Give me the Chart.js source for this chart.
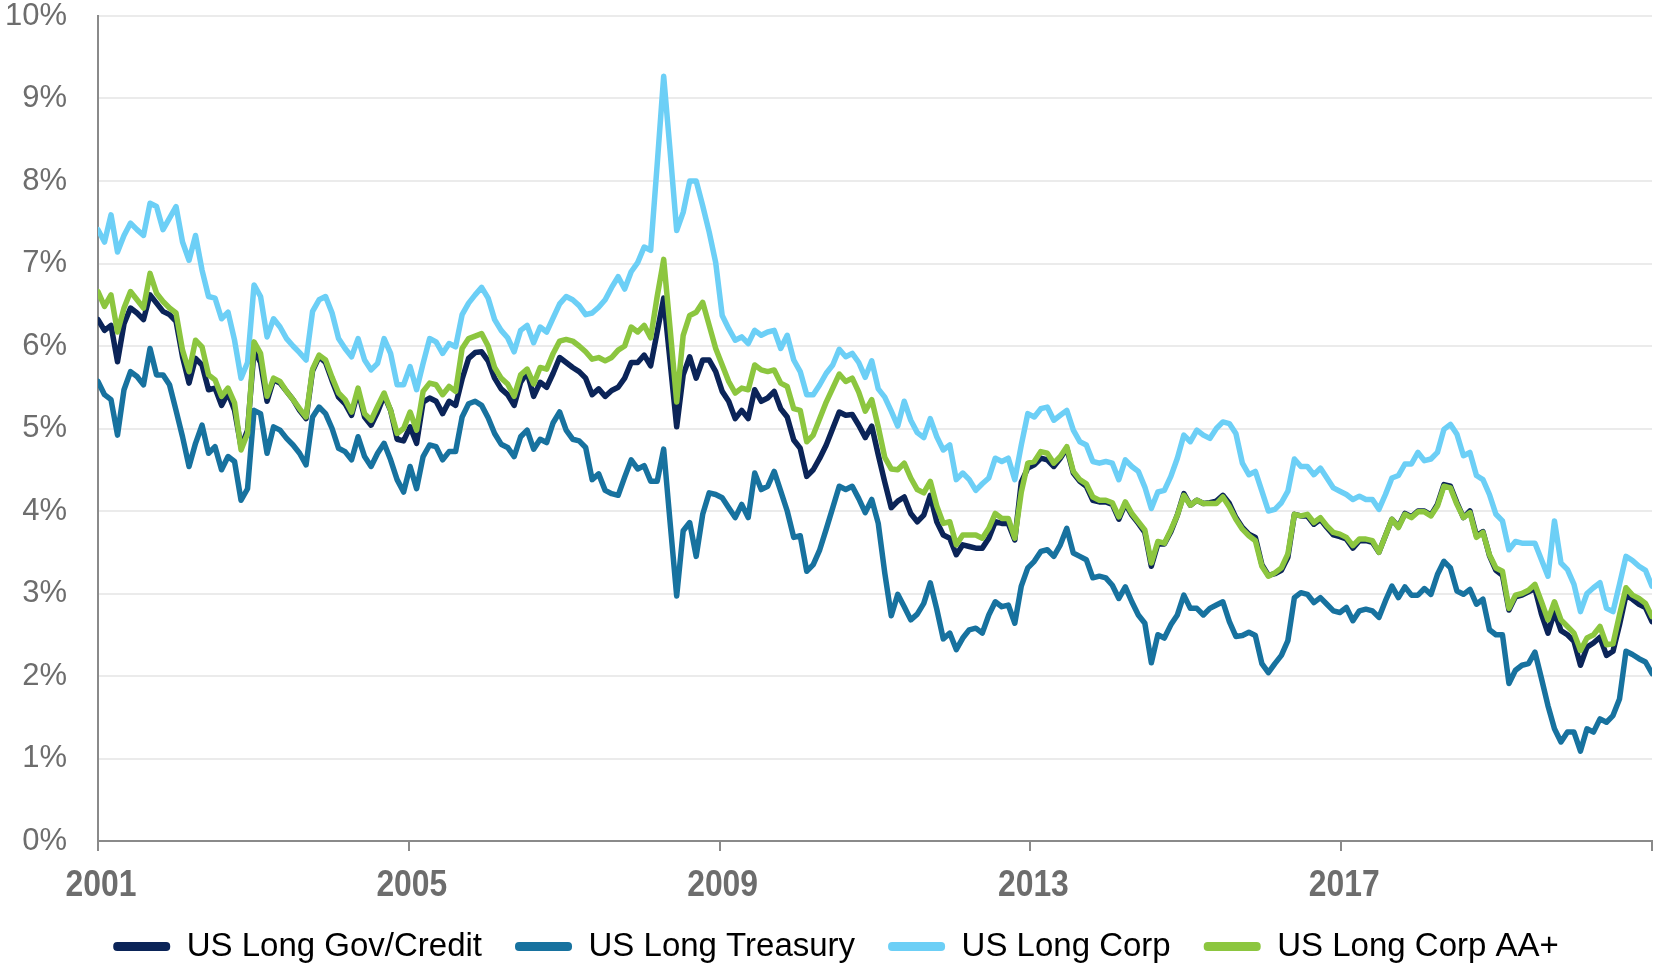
<!DOCTYPE html>
<html>
<head>
<meta charset="utf-8">
<title>US long bond yields</title>
<script src="https://cdn.jsdelivr.net/npm/chart.js@4.4.0/dist/chart.umd.min.js"></script>
<style>
  html, body { margin: 0; padding: 0; background: #ffffff; }
  #chart { display: block; }
</style>
</head>
<body>
<canvas id="chart" width="1654" height="967"></canvas>
<script>
// Monthly yields (%), 240 observations per series
const yearTicks = ['2001', '2005', '2009', '2013', '2017', ''];
const seriesNames = ['US Long Gov/Credit', 'US Long Treasury', 'US Long Corp', 'US Long Corp AA+'];

const govCredit = [
  6.32, 6.19, 6.25, 5.81, 6.27, 6.46, 6.40, 6.32, 6.62, 6.52,
  6.42, 6.38, 6.30, 5.87, 5.55, 5.85, 5.77, 5.47, 5.49, 5.28,
  5.43, 5.22, 4.78, 4.98, 5.95, 5.80, 5.33, 5.59, 5.55, 5.45,
  5.35, 5.22, 5.12, 5.70, 5.87, 5.80, 5.58, 5.38, 5.30, 5.16,
  5.45, 5.14, 5.04, 5.20, 5.40, 5.22, 4.87, 4.85, 5.02, 4.82,
  5.32, 5.37, 5.33, 5.18, 5.33, 5.28, 5.60, 5.85, 5.92, 5.93,
  5.82, 5.61, 5.48, 5.41, 5.28, 5.56, 5.68, 5.39, 5.56, 5.50,
  5.67, 5.86, 5.80, 5.74, 5.69, 5.61, 5.41, 5.48, 5.39, 5.46,
  5.50, 5.61, 5.80, 5.80, 5.89, 5.76, 6.17, 6.58, 5.80, 5.02,
  5.65, 5.87, 5.61, 5.83, 5.83, 5.69, 5.45, 5.33, 5.12, 5.22,
  5.12, 5.47, 5.33, 5.37, 5.45, 5.24, 5.14, 4.86, 4.76, 4.42,
  4.50, 4.64, 4.80, 5.00, 5.20, 5.16, 5.17, 5.04, 4.89, 5.03,
  4.68, 4.35, 4.04, 4.12, 4.17, 3.97, 3.87, 3.95, 4.19, 3.87,
  3.71, 3.67, 3.47, 3.59, 3.57, 3.55, 3.55, 3.67, 3.87, 3.85,
  3.85, 3.65, 4.35, 4.52, 4.56, 4.64, 4.62, 4.54, 4.64, 4.76,
  4.46, 4.36, 4.30, 4.13, 4.11, 4.11, 4.08, 3.90, 4.09, 3.95,
  3.85, 3.74, 3.33, 3.60, 3.60, 3.75, 3.95, 4.21, 4.07, 4.13,
  4.09, 4.10, 4.12, 4.19, 4.09, 3.92, 3.80, 3.72, 3.68, 3.35,
  3.22, 3.24, 3.28, 3.44, 3.96, 3.94, 3.94, 3.84, 3.90, 3.80,
  3.71, 3.69, 3.66, 3.55, 3.64, 3.64, 3.62, 3.50, 3.70, 3.90,
  3.81, 3.97, 3.93, 4.00, 4.00, 3.95, 4.08, 4.32, 4.30, 4.10,
  3.92, 4.00, 3.70, 3.75, 3.46, 3.28, 3.22, 2.80, 2.96, 2.98,
  3.02, 3.06, 2.75, 2.52, 2.78, 2.55, 2.50, 2.42, 2.13, 2.35,
  2.40, 2.47, 2.25, 2.30, 2.62, 2.98, 2.93, 2.87, 2.83, 2.66
];

const treasury = [
  5.57, 5.41, 5.35, 4.92, 5.47, 5.69, 5.63, 5.53, 5.97, 5.65,
  5.65, 5.53, 5.22, 4.90, 4.54, 4.82, 5.04, 4.70, 4.78, 4.50,
  4.66, 4.60, 4.13, 4.27, 5.22, 5.18, 4.70, 5.02, 4.98, 4.88,
  4.80, 4.70, 4.56, 5.14, 5.26, 5.18, 5.00, 4.76, 4.72, 4.62,
  4.90, 4.66, 4.54, 4.70, 4.82, 4.62, 4.38, 4.23, 4.54, 4.27,
  4.66, 4.80, 4.78, 4.62, 4.72, 4.72, 5.14, 5.30, 5.33, 5.28,
  5.13, 4.94, 4.81, 4.77, 4.66, 4.90, 4.98, 4.75, 4.87, 4.83,
  5.07, 5.20, 4.98, 4.87, 4.85, 4.77, 4.38, 4.45, 4.25, 4.21,
  4.19, 4.41, 4.62, 4.51, 4.55, 4.36, 4.36, 4.75, 3.85, 2.97,
  3.76, 3.86, 3.45, 3.96, 4.22, 4.20, 4.16, 4.04, 3.92, 4.08,
  3.92, 4.46, 4.26, 4.30, 4.48, 4.24, 4.00, 3.68, 3.70, 3.27,
  3.35, 3.53, 3.78, 4.04, 4.30, 4.26, 4.30, 4.15, 3.98, 4.14,
  3.85, 3.25, 2.73, 2.99, 2.84, 2.68, 2.75, 2.88, 3.13, 2.81,
  2.45, 2.52, 2.32, 2.46, 2.56, 2.58, 2.52, 2.74, 2.90, 2.84,
  2.86, 2.64, 3.09, 3.31, 3.39, 3.51, 3.53, 3.45, 3.59, 3.79,
  3.49, 3.45, 3.41, 3.19, 3.21, 3.19, 3.10, 2.94, 3.08, 2.90,
  2.74, 2.64, 2.16, 2.50, 2.46, 2.62, 2.74, 2.98, 2.82, 2.82,
  2.74, 2.82, 2.86, 2.90, 2.66, 2.48, 2.49, 2.53, 2.49, 2.15,
  2.04, 2.15, 2.25, 2.43, 2.95, 3.01, 2.99, 2.89, 2.95, 2.87,
  2.79, 2.77, 2.83, 2.67, 2.79, 2.81, 2.79, 2.71, 2.91, 3.09,
  2.95, 3.08, 2.98, 2.98, 3.06, 2.99, 3.23, 3.39, 3.31, 3.03,
  2.99, 3.05, 2.87, 2.93, 2.56, 2.50, 2.50, 1.91, 2.07, 2.13,
  2.15, 2.29, 1.97, 1.64, 1.36, 1.20, 1.32, 1.32, 1.09, 1.36,
  1.32, 1.48, 1.44, 1.52, 1.72, 2.30, 2.26, 2.21, 2.17, 2.03
];

const corp = [
  7.41, 7.26, 7.59, 7.14, 7.34, 7.49, 7.41, 7.34, 7.73, 7.69,
  7.41, 7.55, 7.69, 7.26, 7.04, 7.34, 6.92, 6.60, 6.58, 6.33,
  6.41, 6.07, 5.61, 5.80, 6.74, 6.60, 6.11, 6.33, 6.23, 6.09,
  6.00, 5.92, 5.83, 6.42, 6.56, 6.60, 6.40, 6.09, 5.97, 5.87,
  6.09, 5.83, 5.71, 5.79, 6.09, 5.91, 5.53, 5.53, 5.75, 5.47,
  5.79, 6.09, 6.05, 5.91, 6.03, 5.99, 6.38, 6.52, 6.62, 6.71,
  6.58, 6.32, 6.19, 6.10, 5.93, 6.19, 6.25, 6.04, 6.23, 6.17,
  6.34, 6.51, 6.60, 6.56, 6.49, 6.38, 6.40, 6.47, 6.56, 6.71,
  6.84, 6.69, 6.90, 7.01, 7.20, 7.16, 8.20, 9.27, 8.35, 7.40,
  7.62, 8.00, 8.00, 7.70, 7.38, 7.01, 6.37, 6.21, 6.07, 6.11,
  6.03, 6.19, 6.13, 6.17, 6.19, 5.97, 6.13, 5.83, 5.69, 5.41,
  5.41, 5.53, 5.67, 5.77, 5.96, 5.87, 5.91, 5.80, 5.62, 5.82,
  5.48, 5.38, 5.21, 5.03, 5.33, 5.10, 4.95, 4.89, 5.12, 4.90,
  4.74, 4.80, 4.38, 4.46, 4.38, 4.25, 4.33, 4.40, 4.64, 4.60,
  4.64, 4.38, 4.80, 5.18, 5.14, 5.24, 5.26, 5.10, 5.16, 5.22,
  4.98, 4.84, 4.80, 4.60, 4.58, 4.60, 4.58, 4.38, 4.62, 4.54,
  4.48, 4.29, 4.03, 4.23, 4.25, 4.42, 4.64, 4.92, 4.84, 4.98,
  4.92, 4.88, 5.00, 5.08, 5.06, 4.94, 4.58, 4.44, 4.48, 4.24,
  4.00, 4.02, 4.10, 4.24, 4.63, 4.54, 4.54, 4.44, 4.52, 4.40,
  4.28, 4.24, 4.20, 4.14, 4.18, 4.14, 4.14, 4.02, 4.20, 4.40,
  4.43, 4.57, 4.57, 4.71, 4.61, 4.63, 4.71, 4.99, 5.05, 4.93,
  4.67, 4.71, 4.43, 4.38, 4.20, 3.96, 3.88, 3.53, 3.63, 3.61,
  3.61, 3.61, 3.41, 3.21, 3.88, 3.37, 3.29, 3.11, 2.78, 3.00,
  3.07, 3.13, 2.82, 2.78, 3.11, 3.45, 3.40, 3.33, 3.28, 3.09
];

const corpAAplus = [
  6.66, 6.48, 6.62, 6.17, 6.46, 6.66, 6.56, 6.46, 6.88, 6.64,
  6.54, 6.46, 6.40, 5.95, 5.69, 6.07, 5.99, 5.65, 5.59, 5.39,
  5.49, 5.31, 4.74, 4.94, 6.05, 5.91, 5.39, 5.61, 5.57, 5.45,
  5.35, 5.24, 5.14, 5.72, 5.89, 5.83, 5.62, 5.43, 5.35, 5.20,
  5.49, 5.18, 5.10, 5.27, 5.43, 5.22, 4.94, 5.00, 5.20, 4.98,
  5.45, 5.55, 5.53, 5.41, 5.51, 5.45, 5.97, 6.09, 6.12, 6.15,
  6.00, 5.74, 5.61, 5.54, 5.39, 5.65, 5.72, 5.54, 5.74, 5.72,
  5.91, 6.06, 6.08, 6.06, 6.00, 5.93, 5.84, 5.86, 5.82, 5.86,
  5.95, 6.00, 6.23, 6.17, 6.25, 6.10, 6.60, 7.05, 6.20, 5.32,
  6.13, 6.37, 6.41, 6.53, 6.25, 5.97, 5.77, 5.57, 5.43, 5.49,
  5.47, 5.77, 5.71, 5.69, 5.71, 5.55, 5.51, 5.24, 5.22, 4.84,
  4.92, 5.12, 5.32, 5.49, 5.66, 5.57, 5.61, 5.44, 5.21, 5.35,
  5.02, 4.65, 4.51, 4.50, 4.58, 4.40, 4.26, 4.22, 4.36, 4.06,
  3.85, 3.87, 3.59, 3.71, 3.71, 3.71, 3.67, 3.79, 3.97, 3.91,
  3.91, 3.67, 4.23, 4.58, 4.60, 4.72, 4.70, 4.58, 4.66, 4.78,
  4.48, 4.38, 4.33, 4.17, 4.13, 4.13, 4.10, 3.93, 4.11, 3.97,
  3.87, 3.77, 3.37, 3.63, 3.61, 3.77, 3.95, 4.19, 4.07, 4.13,
  4.09, 4.09, 4.09, 4.17, 4.05, 3.90, 3.78, 3.70, 3.64, 3.33,
  3.21, 3.25, 3.31, 3.48, 3.96, 3.94, 3.96, 3.86, 3.92, 3.82,
  3.74, 3.72, 3.68, 3.58, 3.66, 3.66, 3.64, 3.50, 3.70, 3.90,
  3.80, 3.96, 3.92, 3.99, 3.99, 3.94, 4.06, 4.30, 4.28, 4.08,
  3.92, 3.98, 3.68, 3.74, 3.47, 3.31, 3.27, 2.82, 2.98, 3.00,
  3.04, 3.11, 2.90, 2.68, 2.90, 2.68, 2.60, 2.52, 2.31, 2.46,
  2.50, 2.60, 2.38, 2.39, 2.74, 3.07, 2.98, 2.94, 2.88, 2.72
];

const seriesColors = ['#0b2458', '#17729f', '#6ccff6', '#8cc63f'];
const seriesValues = [govCredit, treasury, corp, corpAAplus];
// Green line is painted above the navy one where they overlap
const drawOrder = [1, 2, 3, 0];

const lastIndex = govCredit.length - 1;
const axisGrey = '#8a8a8a';
const textGrey = '#6d6d6d';

const datasets = seriesNames.map((name, i) => ({
  label: name,
  data: seriesValues[i].map((v, idx) => ({ x: idx, y: v })),
  borderColor: seriesColors[i],
  backgroundColor: seriesColors[i],
  borderWidth: 5.5,
  pointRadius: 0,
  pointHoverRadius: 0,
  tension: 0,
  borderJoinStyle: 'round',
  borderCapStyle: 'round',
  order: drawOrder[i]
}));

// Year labels under the x axis, set in a condensed bold face
const yearLabelPlugin = {
  id: 'yearLabels',
  afterDraw(chart) {
    const xs = chart.scales.x;
    const ctx = chart.ctx;
    ctx.save();
    ctx.fillStyle = textGrey;
    ctx.font = "bold 37px 'Liberation Sans', Arial, sans-serif";
    ctx.textAlign = 'center';
    ctx.textBaseline = 'alphabetic';
    xs.ticks.forEach((t, k) => {
      const label = yearTicks[k];
      if (!label) return;
      const px = xs.getPixelForValue(t.value) + 3;
      ctx.save();
      ctx.translate(px, 896);
      ctx.scale(0.86, 1);
      ctx.fillText(label, 0, 0);
      ctx.restore();
    });
    ctx.restore();
  }
};

// Nudge the legend row slightly to the right
const legendShiftPlugin = {
  id: 'legendShift',
  afterLayout(chart) {
    if (chart.legend) {
      chart.legend.left += 10;
      chart.legend.right += 10;
    }
  }
};

new Chart(document.getElementById('chart'), {
  type: 'line',
  data: { datasets },
  plugins: [yearLabelPlugin, legendShiftPlugin],
  options: {
    responsive: false,
    animation: false,
    devicePixelRatio: 1,
    events: [],
    layout: { padding: { top: 16, right: 2, left: 0, bottom: -6 } },
    plugins: {
      tooltip: { enabled: false },
      legend: {
        position: 'bottom',
        align: 'center',
        labels: {
          boxWidth: 57,
          boxHeight: 9,
          padding: 33,
          color: textGrey,
          font: { family: "'Liberation Sans', Arial, sans-serif", size: 33 },
          generateLabels: (chart) => chart.data.datasets.map((ds, i) => ({
            text: ds.label,
            fillStyle: ds.borderColor,
            strokeStyle: ds.borderColor,
            lineWidth: 0,
            borderRadius: 4,
            hidden: false,
            datasetIndex: i
          }))
        }
      }
    },
    scales: {
      x: {
        type: 'linear',
        min: 0,
        max: lastIndex,
        afterBuildTicks: (scale) => {
          scale.ticks = yearTicks.map((_, k) => ({ value: k * lastIndex / (yearTicks.length - 1) }));
        },
        afterFit: (scale) => { scale.height = 56; },
        ticks: {
          display: false,
          autoSkip: false,
          maxRotation: 0,
          callback: (value, index) => yearTicks[index]
        },
        grid: { drawOnChartArea: false, drawTicks: true, tickLength: 10, color: axisGrey, lineWidth: 2 },
        border: { display: true, color: axisGrey, width: 2 }
      },
      y: {
        min: 0,
        max: 10,
        afterFit: (scale) => {
          scale.width = 98;
          scale.paddingTop = 0;
          scale.paddingBottom = 0;
        },
        ticks: {
          stepSize: 1,
          padding: 31,
          color: textGrey,
          font: { family: "'Liberation Sans', Arial, sans-serif", size: 31, lineHeight: 1 },
          callback: (value) => value + '%'
        },
        grid: { color: '#ebebeb', lineWidth: 2, drawTicks: false },
        border: { display: true, color: axisGrey, width: 2 }
      }
    }
  }
});
</script>
</body>
</html>
